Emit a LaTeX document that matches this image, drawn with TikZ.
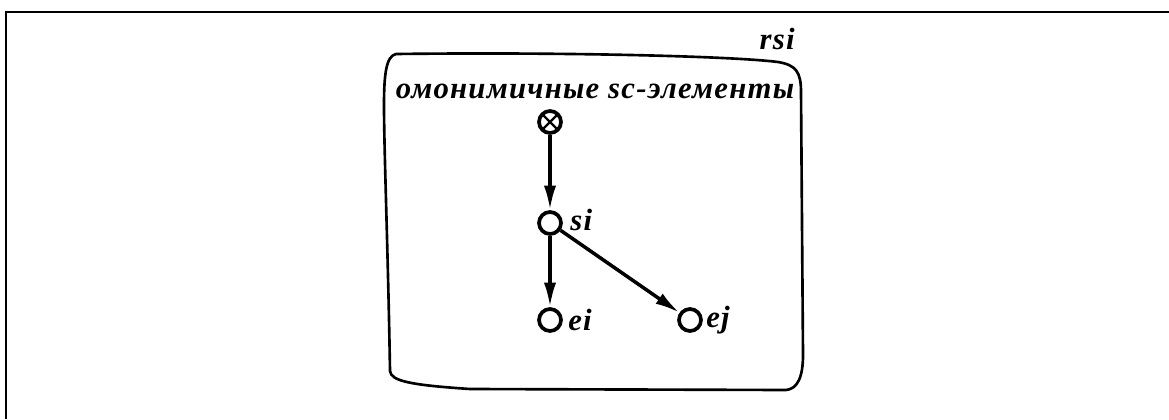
\documentclass[tikz,border=0pt]{standalone}
\usepackage{fontspec}
\setmainfont{Liberation Serif}
\newfontfamily\lblfont[LetterSpace=4]{Liberation Serif Bold Italic}
\usetikzlibrary{arrows.meta}
\tikzset{
  elem/.style={circle, draw, line width=2.1pt, minimum size=12.5pt, inner sep=0pt, fill=white},
  sclass/.style={elem, path picture={
      \draw[line width=1.3pt] (path picture bounding box.south west) -- (path picture bounding box.north east)
        (path picture bounding box.north west) -- (path picture bounding box.south east);}},
  lbl/.style={font=\lblfont\fontsize{17.5}{20}\selectfont, inner sep=0pt},
  arc/.style={-{Latex[length=14pt,width=7pt]}, line width=2pt},
}
\begin{document}
\begin{tikzpicture}[x=0.02cm, y=-0.02cm]
    \useasboundingbox (0,0) rectangle (1169,419);

    % рамка
    \draw[line width=1.7pt] (6,419) -- (6,12) -- (1169,12);

    % лист
    \draw[line width=1.5pt] (396,54) .. controls (560,52) and (730,56) .. (778,62)
        .. controls (796,65) and (801,72) .. (801,92) -- (803,355)
        .. controls (803,378) and (797,389) .. (786,390)
        -- (470,389) .. controls (410,385) and (391,381) .. (390,371)
        .. controls (388,250) and (384,150) .. (384,105)
        .. controls (384,75) and (386,56) .. (396,54);

    \node[lbl, anchor=base east] (rsi) at (795,50) {rsi};
    \node[lbl, anchor=base] (title) at (595,98) {омонимичные sc-элементы};

    % узлы
    \node[sclass] (hom) at (550,122) {};
    \node[elem] (si) at (550,223) {};
    \node[elem] (ei) at (550,320) {};
    \node[elem] (ej) at (690,320) {};

    \node[lbl, anchor=west] (silbl) at (570,220) {si};
    \node[lbl, anchor=west] (eilbl) at (568,320) {ei};
    \node[lbl, anchor=west] (ejlbl) at (706,320) {ej};

    % стрелки
    \draw[arc] (hom) -- (si);
    \draw[arc] (si) -- (ei);
    \draw[arc] (si) -- (ej);
\end{tikzpicture}
\end{document}
